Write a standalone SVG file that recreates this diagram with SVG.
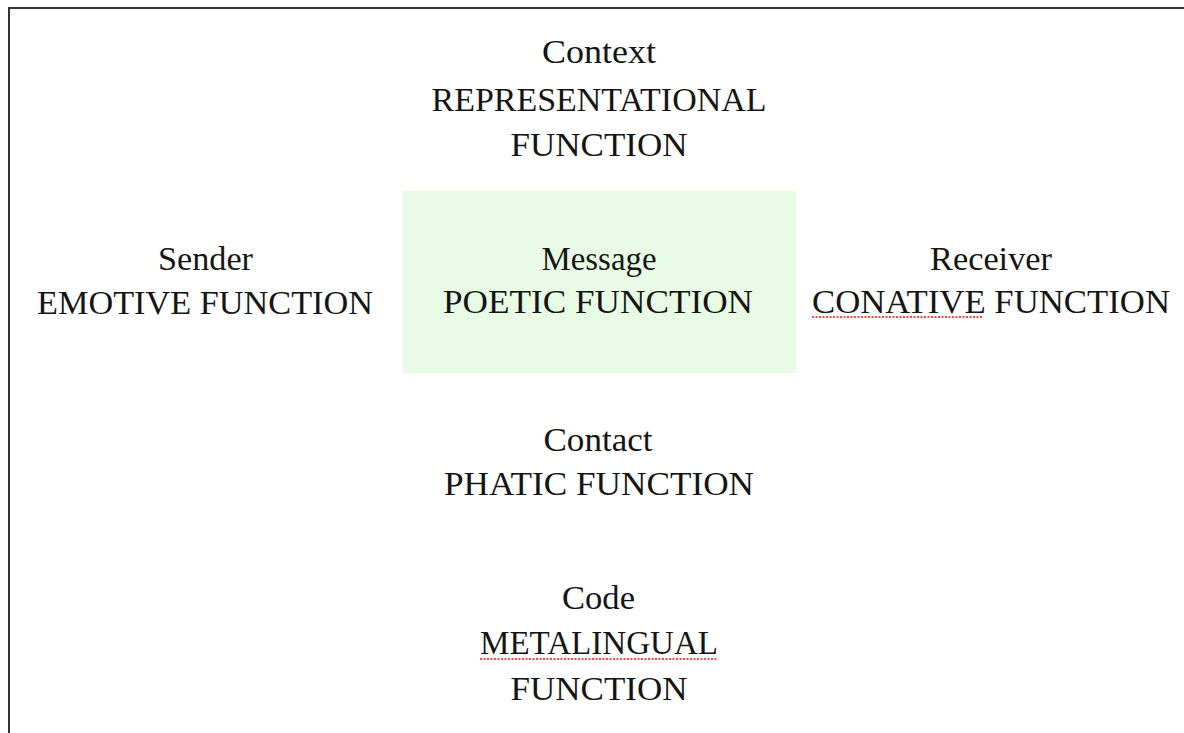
<svg xmlns="http://www.w3.org/2000/svg" width="1184" height="733" viewBox="0 0 1184 733">
  <style>
    text { font-family: "Liberation Serif", "Times New Roman", serif; font-size: 33px; fill: #151515; text-anchor: middle; }
    .spell { stroke: #f44848; stroke-width: 2; stroke-dasharray: 2 1.5; fill: none; }
    .frame { stroke: #333333; stroke-width: 2; fill: none; }
  </style>
  <rect x="0" y="0" width="1184" height="733" fill="#ffffff"/>
  <path class="frame" d="M9,733 V8 H1184"/>
  <g id="connectors"></g>
  <g id="context">
    <text x="599" y="63" textLength="114" lengthAdjust="spacingAndGlyphs">Context</text>
    <text x="599" y="111" textLength="335" lengthAdjust="spacingAndGlyphs">REPRESENTATIONAL</text>
    <text x="599" y="156" textLength="177" lengthAdjust="spacingAndGlyphs">FUNCTION</text>
  </g>
  <g id="sender">
    <text x="205.5" y="270" textLength="95" lengthAdjust="spacingAndGlyphs">Sender</text>
    <text x="205" y="314" textLength="336" lengthAdjust="spacingAndGlyphs">EMOTIVE FUNCTION</text>
  </g>
  <g id="message">
    <rect x="403" y="191" width="393" height="182" fill="#e8fbe4"/>
    <text x="599" y="270" textLength="115" lengthAdjust="spacingAndGlyphs">Message</text>
    <text x="598" y="313" textLength="310" lengthAdjust="spacingAndGlyphs">POETIC FUNCTION</text>
  </g>
  <g id="receiver">
    <text x="991" y="270" textLength="122" lengthAdjust="spacingAndGlyphs">Receiver</text>
    <text x="991" y="313" textLength="358" lengthAdjust="spacingAndGlyphs">CONATIVE FUNCTION</text>
    <line class="spell" x1="812" y1="317" x2="983" y2="317"/>
  </g>
  <g id="contact">
    <text x="598" y="451" textLength="109" lengthAdjust="spacingAndGlyphs">Contact</text>
    <text x="599" y="495" textLength="310" lengthAdjust="spacingAndGlyphs">PHATIC FUNCTION</text>
  </g>
  <g id="code">
    <text x="598.5" y="609" textLength="73" lengthAdjust="spacingAndGlyphs">Code</text>
    <text x="599" y="654" textLength="238" lengthAdjust="spacingAndGlyphs">METALINGUAL</text>
    <line class="spell" x1="480" y1="659" x2="718" y2="659"/>
    <text x="599" y="700" textLength="177" lengthAdjust="spacingAndGlyphs">FUNCTION</text>
  </g>
</svg>
